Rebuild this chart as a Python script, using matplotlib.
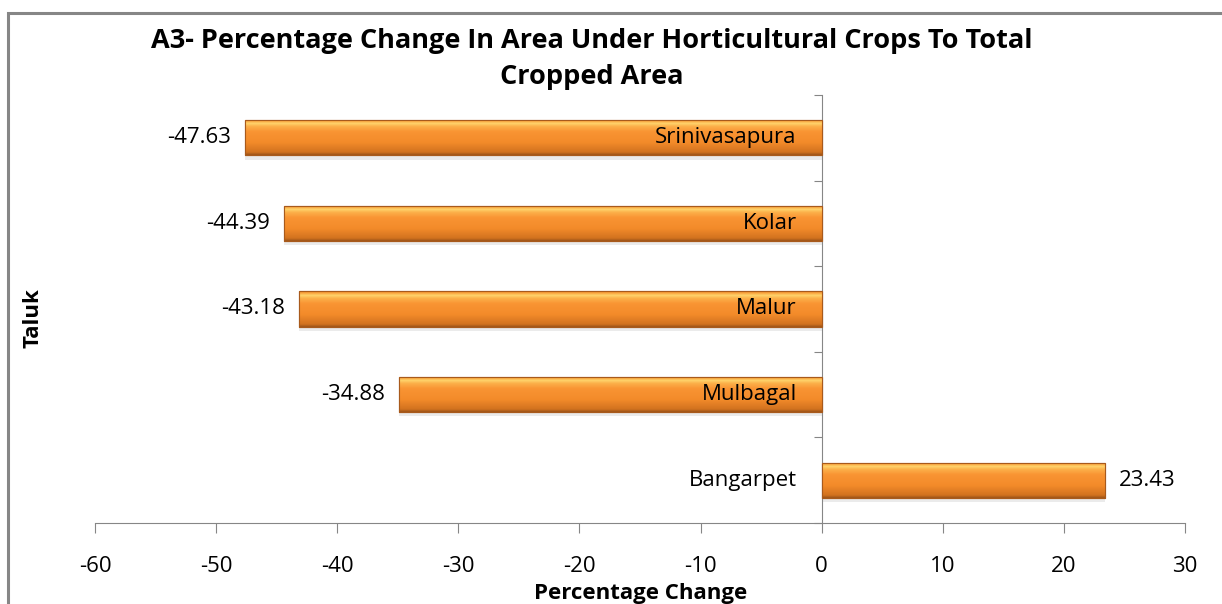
import numpy as np
import matplotlib
matplotlib.use("Agg")
import matplotlib.pyplot as plt
from matplotlib.patches import Rectangle
from matplotlib.colors import LinearSegmentedColormap

# data
taluks = ["Bangarpet", "Mulbagal", "Malur", "Kolar", "Srinivasapura"]
changes = [23.43, -34.88, -43.18, -44.39, -47.63]
xticks = [-60, -50, -40, -30, -20, -10, 0, 10, 20, 30]

plt.rcParams['font.family'] = ['Open Sans', 'DejaVu Sans']

fig = plt.figure(figsize=(12.22, 6.04), dpi=100)
ax = fig.add_axes([95 / 1222, 1 - 523 / 604, 1090 / 1222, 428 / 604])

ypos = np.arange(len(taluks))
bar_h = 0.41

# shadow
ax.barh(ypos - 0.05, changes, height=bar_h, left=0, color="#000000", alpha=0.08,
        linewidth=0, zorder=1)
bars = ax.barh(ypos, changes, height=bar_h, color="#F79431", edgecolor="#A85A1C",
               linewidth=0.8, zorder=2)

# gradient fill inside each bar
cmap = LinearSegmentedColormap.from_list(
    "orng", [(0.0, "#9C5418"), (0.08, "#D2721F"), (0.35, "#F38B2A"),
             (0.65, "#F99433"), (0.8, "#FCB04A"), (0.88, "#FFD46C"),
             (0.95, "#F9A23C"), (1.0, "#E8862C")])
grad = np.linspace(0, 1, 256).reshape(-1, 1)
for b in bars:
    x0, y0 = b.get_x(), b.get_y()
    w, h = b.get_width(), b.get_height()
    im = ax.imshow(grad, cmap=cmap, aspect="auto", origin="lower",
                   extent=[x0, x0 + w, y0, y0 + h], zorder=3)
    im.set_clip_path(b)
    ax.add_patch(Rectangle((x0, y0), w, h, fill=False, edgecolor="#A85A1C",
                           linewidth=0.8, zorder=4))

ax.set_xlim(-60, 30)
ax.set_ylim(-0.5, len(taluks) - 0.5)

# category labels next to zero axis
for y, name in zip(ypos, taluks):
    ax.annotate(name, xy=(0, y), xytext=(-18, 0), textcoords="offset points",
                ha="right", va="center", fontsize=16, color="#000000", zorder=5)

# value labels
for y, v in zip(ypos, changes):
    off = 10 if v > 0 else -10
    ax.annotate(f"{v:.2f}", xy=(v, y), xytext=(off, 0), textcoords="offset points",
                ha="left" if v > 0 else "right", va="center", fontsize=16, zorder=5)

# axes styling
for s in ["top", "right"]:
    ax.spines[s].set_visible(False)
ax.spines["left"].set_position(("data", 0))
ax.spines["left"].set_color("#868686")
ax.spines["bottom"].set_color("#868686")
ax.set_xticks(xticks)
ax.set_xticklabels([str(t) for t in xticks], fontsize=16)
ax.tick_params(axis="x", direction="out", length=7, color="#868686", pad=17)
ax.set_yticks(np.arange(-0.5, len(taluks), 1.0))
ax.set_yticklabels([])
ax.tick_params(axis="y", direction="out", length=6, color="#868686")

fig.text(641 / 1222, 1 - 594 / 604, "Percentage Change", fontsize=16,
         fontweight="bold", ha="center", va="center")
fig.text(33 / 1222, 1 - 318 / 604, "Taluk", rotation=90, fontsize=16,
         fontweight="bold", ha="center", va="center")
fig.text(592 / 1222, 1 - 59 / 604,
         "A3- Percentage Change In Area Under Horticultural Crops To Total\nCropped Area",
         ha="center", va="center", fontsize=19.5, fontweight="bold", linespacing=1.5)

# chart border
fig.add_artist(Rectangle((8 / 1222, -0.1), 1.2, 1 - 13 / 604 + 0.1,
                         transform=fig.transFigure, fill=False,
                         edgecolor="#868686", linewidth=2.2, clip_on=False))

fig.savefig("out.png", dpi=100)
